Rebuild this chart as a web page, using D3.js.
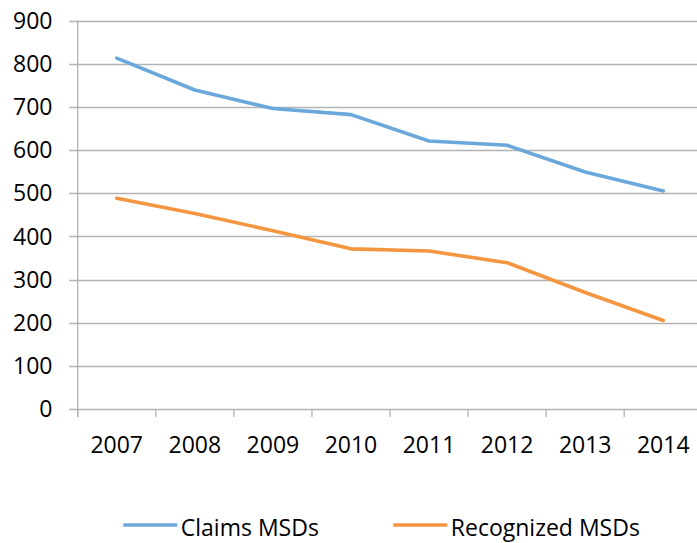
<!DOCTYPE html>
<html>
<head>
<meta charset="utf-8">
<script src="https://cdn.jsdelivr.net/npm/d3@7"></script>
<style>
  html, body { margin: 0; padding: 0; background: #fff; }
  svg { display: block; font-family: "Open Sans", "Liberation Sans", sans-serif; }
</style>
</head>
<body>
<div id="chart"></div>
<script>
const years = ["2007", "2008", "2009", "2010", "2011", "2012", "2013", "2014"];
const claimsMSDs = [813, 739, 696, 682, 621, 611, 549, 505];
const recognizedMSDs = [488, 453, 413, 371, 366, 339, 270, 205];
const yTicks = [0, 100, 200, 300, 400, 500, 600, 700, 800, 900];
const seriesNames = ["Claims MSDs", "Recognized MSDs"];
const seriesColors = ["#6aa8dc", "#f4963f"];

const width = 697, height = 543;
const plot = { left: 77.7, right: 702.3, top: 20.5, bottom: 409 };

const svg = d3.select("#chart").append("svg")
    .attr("width", width)
    .attr("height", height);

const x = d3.scaleBand().domain(years).range([plot.left, plot.right]);
const y = d3.scaleLinear().domain([0, 900]).range([plot.bottom, plot.top]);

// gridlines (extend left as tick marks)
svg.append("g")
    .selectAll("line")
    .data(yTicks)
    .join("line")
    .attr("x1", plot.left - 8.5)
    .attr("x2", width)
    .attr("y1", d => Math.round(y(d)) + 0.5)
    .attr("y2", d => Math.round(y(d)) + 0.5)
    .attr("stroke", "#b3b3b3")
    .attr("stroke-width", 1.3);

// y axis line
svg.append("line")
    .attr("x1", plot.left).attr("x2", plot.left)
    .attr("y1", y(900)).attr("y2", plot.bottom + 8)
    .attr("stroke", "#b3b3b3")
    .attr("stroke-width", 1.3);

// x tick marks at band boundaries
const bounds = years.map(d => x(d)).concat([plot.right]);
svg.append("g")
    .selectAll("line")
    .data(bounds)
    .join("line")
    .attr("x1", d => d).attr("x2", d => d)
    .attr("y1", plot.bottom).attr("y2", plot.bottom + 8)
    .attr("stroke", "#b3b3b3")
    .attr("stroke-width", 1.3);

// y labels
svg.append("g")
    .selectAll("text")
    .data(yTicks)
    .join("text")
    .attr("x", 52.5)
    .attr("y", d => y(d))
    .attr("dy", "0.36em")
    .attr("text-anchor", "end")
    .attr("font-size", 23)
    .attr("fill", "#000")
    .text(d => d);

// x labels
svg.append("g")
    .selectAll("text")
    .data(years)
    .join("text")
    .attr("x", d => x(d) + x.bandwidth() / 2)
    .attr("y", 452.5)
    .attr("text-anchor", "middle")
    .attr("font-size", 23)
    .attr("fill", "#000")
    .text(d => d);

const line = d3.line()
    .x((d, i) => x(years[i]) + x.bandwidth() / 2)
    .y(d => y(d));

[claimsMSDs, recognizedMSDs].forEach((vals, k) => {
    svg.append("path")
        .datum(vals)
        .attr("d", line)
        .attr("fill", "none")
        .attr("stroke", seriesColors[k])
        .attr("stroke-width", 3.6)
        .attr("stroke-linejoin", "round")
        .attr("stroke-linecap", "round");
});

// legend
const legendX = [123.3, 393.3];
const legend = svg.append("g")
    .selectAll("g")
    .data(seriesNames)
    .join("g")
    .attr("transform", (d, i) => `translate(${legendX[i]}, 525)`);

legend.append("line")
    .attr("x1", 0).attr("x2", 54)
    .attr("y1", 0).attr("y2", 0)
    .attr("stroke", (d, i) => seriesColors[i])
    .attr("stroke-width", 3.6);

legend.append("text")
    .attr("x", 57.5)
    .attr("y", 11)
    .attr("font-size", 23)
    .attr("fill", "#000")
    .text(d => d);
</script>
</body>
</html>
